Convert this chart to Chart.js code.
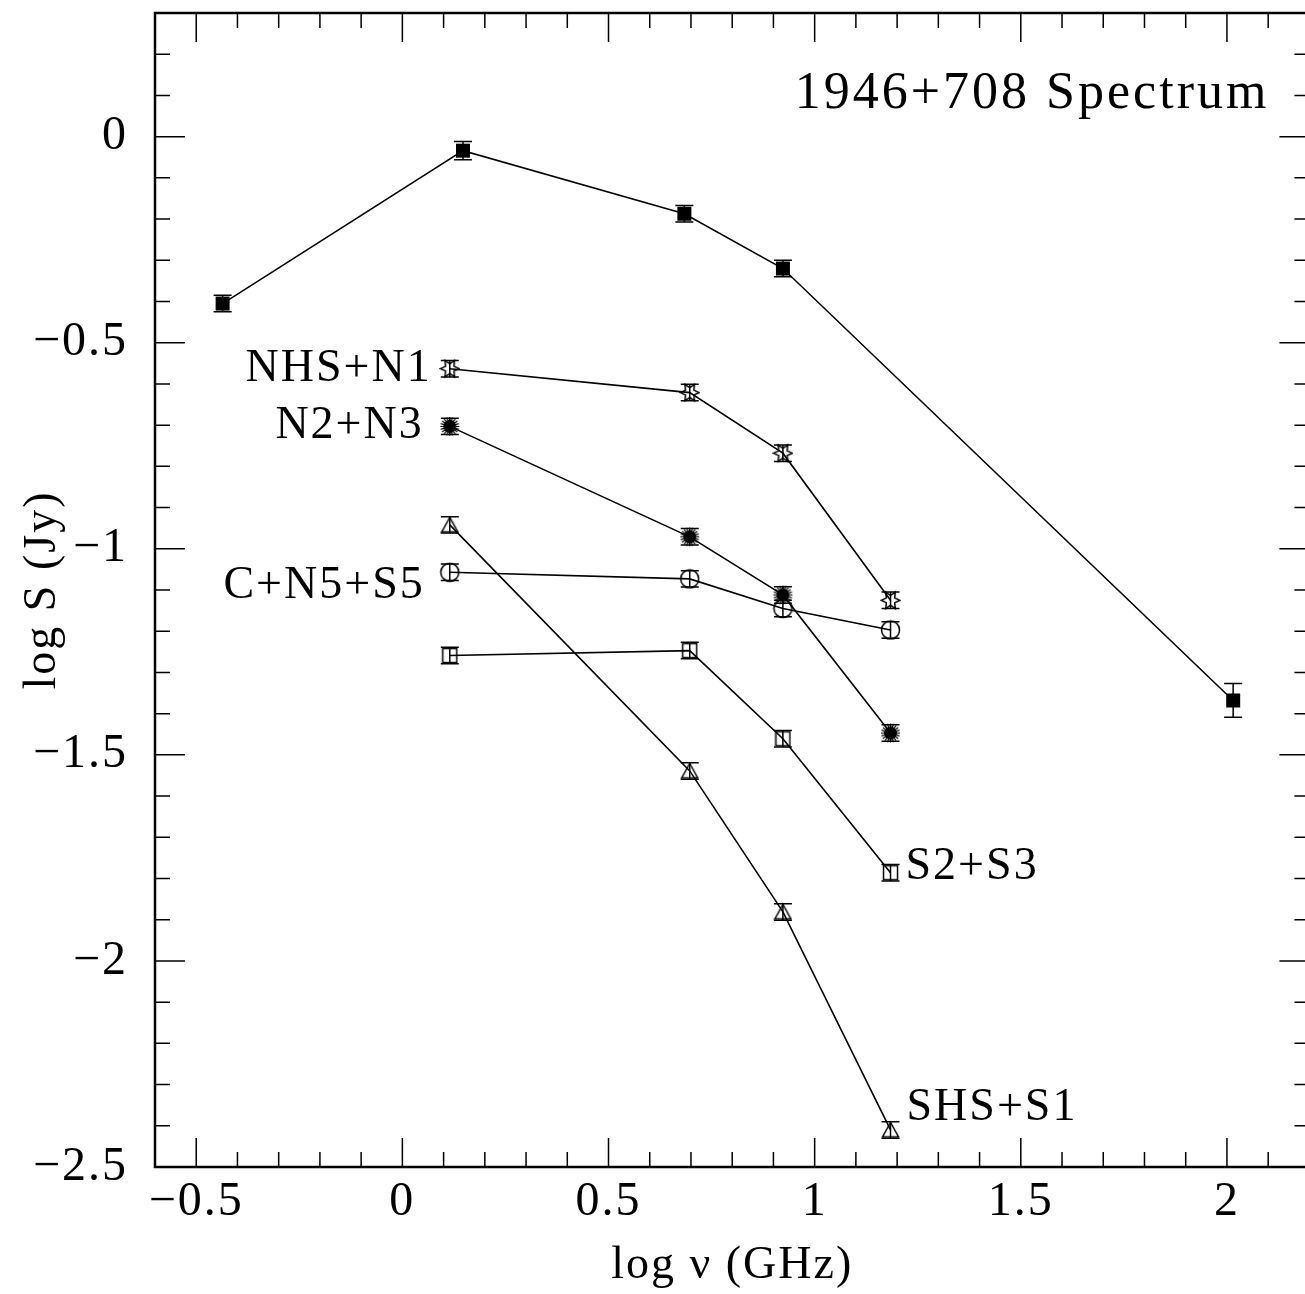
<!DOCTYPE html>
<html>
<head>
<meta charset="utf-8">
<script src="https://cdn.jsdelivr.net/npm/chart.js@4.4.1/dist/chart.umd.min.js"></script>
<style>
  html, body { margin: 0; padding: 0; background: #fff; overflow: hidden; }
  #wrap { width: 1320px; height: 1294px; }
</style>
</head>
<body>
<div id="wrap"><canvas id="spectrumChart" width="1320" height="1294"></canvas></div>
<script>
// 1946+708 spectrum: total flux plus component groups

// log frequency (GHz)
const totalFreq = [-0.436, 0.147, 0.684, 0.923, 2.015];
const compFreq = [0.115, 0.697, 0.923, 1.184];

// log S (Jy) and errors
const totalFlux = [-0.405, -0.034, -0.187, -0.320, -1.368];
const totalErr = [0.020, 0.022, 0.020, 0.020, 0.041];

const nhsN1 = [-0.563, -0.621, -0.768, -1.125];
const n2N3 = [-0.703, -0.971, -1.112, -1.447];
const cN5S5 = [-1.057, -1.073, -1.145, -1.197];
const s2S3 = [-1.259, -1.247, -1.461, -1.786];
const shsS1 = [-0.942, -1.539, -1.881, -2.410];
const compErr = [0.020, 0.020, 0.020, 0.020];

const seriesNames = ['Total', 'NHS+N1', 'N2+N3', 'C+N5+S5', 'S2+S3', 'SHS+S1'];

// axis tick labels
const xTickValues = [-0.5, 0, 0.5, 1, 1.5, 2];
const yTickValues = [0, -0.5, -1, -1.5, -2, -2.5];

const FONT = '"Liberation Serif", "DejaVu Serif", serif';

// --- symbols drawn onto small canvases, used as pointStyle ---
function symbol(size, draw) {
  const c = document.createElement('canvas');
  c.width = size; c.height = size;
  const g = c.getContext('2d');
  g.strokeStyle = '#000'; g.fillStyle = '#000'; g.lineWidth = 1.5;
  draw(g, size / 2);
  return c;
}

const filledSquare = symbol(16, (g) => { g.fillRect(1, 1, 14, 14); });

const hollowStar = symbol(21, (g, c) => {
  g.beginPath();
  for (let i = 0; i < 12; i++) {
    const r = i % 2 === 0 ? 9.5 : 4.8;
    const a = i * Math.PI / 6;
    const px = c + r * Math.cos(a), py = c + r * Math.sin(a);
    if (i === 0) g.moveTo(px, py); else g.lineTo(px, py);
  }
  g.closePath();
  g.stroke();
});

const sunburst = symbol(21, (g, c) => {
  g.lineWidth = 1.2;
  g.beginPath();
  for (let i = 0; i < 20; i++) {
    const a = i * Math.PI / 10;
    g.moveTo(c, c);
    g.lineTo(c + 9.5 * Math.cos(a), c + 9.5 * Math.sin(a));
  }
  g.stroke();
  g.beginPath(); g.arc(c, c, 6.5, 0, Math.PI * 2); g.fill();
});

const openCircle = symbol(21, (g, c) => {
  g.beginPath(); g.arc(c, c, 9, 0, Math.PI * 2); g.stroke();
});

const openSquare = symbol(17, (g) => { g.strokeRect(1.5, 1.5, 14, 14); });

const openTriangle = symbol(19, (g) => {
  g.beginPath();
  g.moveTo(9.5, 2); g.lineTo(1.5, 16.5); g.lineTo(17.5, 16.5); g.closePath();
  g.stroke();
});

const series = [
  { xs: totalFreq, ys: totalFlux, errs: totalErr, sym: filledSquare },
  { xs: compFreq, ys: nhsN1, errs: compErr, sym: hollowStar },
  { xs: compFreq, ys: n2N3, errs: compErr, sym: sunburst },
  { xs: compFreq, ys: cN5S5, errs: compErr, sym: openCircle },
  { xs: compFreq, ys: s2S3, errs: compErr, sym: openSquare },
  { xs: compFreq, ys: shsS1, errs: compErr, sym: openTriangle }
];

// where the series names sit, relative to one of their points
const seriesLabels = [
  { ds: 1, pt: 0, align: 'right', dx: -18, dy: 0 },
  { ds: 2, pt: 0, align: 'right', dx: -26, dy: 0 },
  { ds: 3, pt: 0, align: 'right', dx: -25, dy: 14 },
  { ds: 4, pt: 3, align: 'left', dx: 15, dy: -6 },
  { ds: 5, pt: 3, align: 'left', dx: 16, dy: -22 }
];

const fmt = v => (v < 0 ? '\u2212' : '') + Math.abs(v);

// letter spacing for the wide plot lettering
const spacing = {
  id: 'spacing',
  beforeUpdate(chart) { chart.ctx.letterSpacing = '2px'; },
  beforeDraw(chart) { chart.ctx.letterSpacing = '2px'; }
};

// frame with inward major/minor ticks on all four sides
const frameTicks = {
  id: 'frameTicks',
  afterDraw(chart) {
    const { ctx, chartArea: a, scales: { x, y } } = chart;
    ctx.save();
    ctx.strokeStyle = '#000';
    ctx.lineWidth = 1.5;
    ctx.beginPath();
    for (let i = -6; i <= 22; i++) {
      const px = x.getPixelForValue(i / 10);
      const len = i % 5 === 0 ? 29 : 15;
      ctx.moveTo(px, a.bottom); ctx.lineTo(px, a.bottom - len);
      ctx.moveTo(px, a.top); ctx.lineTo(px, a.top + len);
    }
    for (let i = -25; i <= 3; i++) {
      const py = y.getPixelForValue(i / 10);
      const len = i % 5 === 0 ? 30 : 15;
      ctx.moveTo(a.left, py); ctx.lineTo(a.left + len, py);
      ctx.moveTo(a.right, py); ctx.lineTo(a.right - len, py);
    }
    ctx.stroke();
    ctx.lineWidth = 2.5;
    ctx.strokeRect(a.left, a.top, a.right - a.left, a.bottom - a.top);
    ctx.restore();
  }
};

const errorBars = {
  id: 'errorBars',
  afterDatasetsDraw(chart) {
    const { ctx, scales: { x, y } } = chart;
    ctx.save();
    ctx.strokeStyle = '#000';
    ctx.lineWidth = 1.5;
    chart.data.datasets.forEach(ds => {
      ds.data.forEach((p, i) => {
        const px = x.getPixelForValue(p.x);
        const top = y.getPixelForValue(p.y + ds.errors[i]);
        const bot = y.getPixelForValue(p.y - ds.errors[i]);
        ctx.beginPath();
        ctx.moveTo(px, top); ctx.lineTo(px, bot);
        ctx.moveTo(px - 9, top); ctx.lineTo(px + 9, top);
        ctx.moveTo(px - 9, bot); ctx.lineTo(px + 9, bot);
        ctx.stroke();
      });
    });
    ctx.restore();
  }
};

const textLabels = {
  id: 'textLabels',
  afterDraw(chart) {
    const { ctx, chartArea: a, scales: { x, y } } = chart;
    ctx.save();
    ctx.fillStyle = '#000';
    ctx.letterSpacing = '2px';
    ctx.font = '46px ' + FONT;
    ctx.textBaseline = 'middle';
    seriesLabels.forEach(l => {
      const p = chart.data.datasets[l.ds].data[l.pt];
      ctx.textAlign = l.align;
      ctx.fillText(seriesNames[l.ds], x.getPixelForValue(p.x) + l.dx, y.getPixelForValue(p.y) + l.dy);
    });
    ctx.font = '52px ' + FONT;
    ctx.letterSpacing = '3px';
    ctx.textAlign = 'right';
    ctx.textBaseline = 'alphabetic';
    ctx.fillText('1946+708 Spectrum', a.right - 40, a.top + 95);
    ctx.restore();
  }
};

new Chart(document.getElementById('spectrumChart').getContext('2d'), {
  type: 'scatter',
  data: {
    datasets: series.map((s, k) => ({
      label: seriesNames[k],
      data: s.xs.map((v, i) => ({ x: v, y: s.ys[i] })),
      errors: s.errs,
      showLine: true,
      borderColor: '#000',
      borderWidth: 1.6,
      backgroundColor: '#000',
      pointStyle: s.sym,
      pointRadius: 9,
      pointHoverRadius: 9,
      tension: 0
    }))
  },
  options: {
    responsive: false,
    animation: false,
    layout: { padding: { left: 0, right: 6, top: 13, bottom: 0 } },
    plugins: {
      legend: { display: false },
      tooltip: { enabled: false }
    },
    scales: {
      x: {
        type: 'linear',
        min: -0.6,
        max: 2.2,
        grid: { display: false, drawTicks: false },
        border: { display: false },
        afterBuildTicks: s => { s.ticks = xTickValues.map(v => ({ value: v })); },
        afterFit: s => { s.height = 127; s.paddingLeft = 0; s.paddingRight = 0; },
        ticks: {
          color: '#000', font: { family: FONT, size: 48 }, padding: 7,
          maxRotation: 0, autoSkip: false, callback: fmt
        },
        title: {
          display: true, text: 'log \u03bd (GHz)', color: '#000',
          font: { family: FONT, size: 46 }, padding: { top: 0, bottom: 0 }
        }
      },
      y: {
        type: 'linear',
        min: -2.5,
        max: 0.3,
        grid: { display: false, drawTicks: false },
        border: { display: false },
        afterBuildTicks: s => { s.ticks = yTickValues.map(v => ({ value: v })); },
        afterFit: s => { s.width = 155; s.paddingTop = 0; s.paddingBottom = 0; },
        ticks: {
          color: '#000', font: { family: FONT, size: 48 }, padding: 27,
          autoSkip: false, callback: fmt
        },
        title: {
          display: true, text: 'log S (Jy)', color: '#000',
          font: { family: FONT, size: 46 }, padding: { top: 15, bottom: 0 }
        }
      }
    }
  },
  plugins: [spacing, errorBars, frameTicks, textLabels]
});
</script>
</body>
</html>
